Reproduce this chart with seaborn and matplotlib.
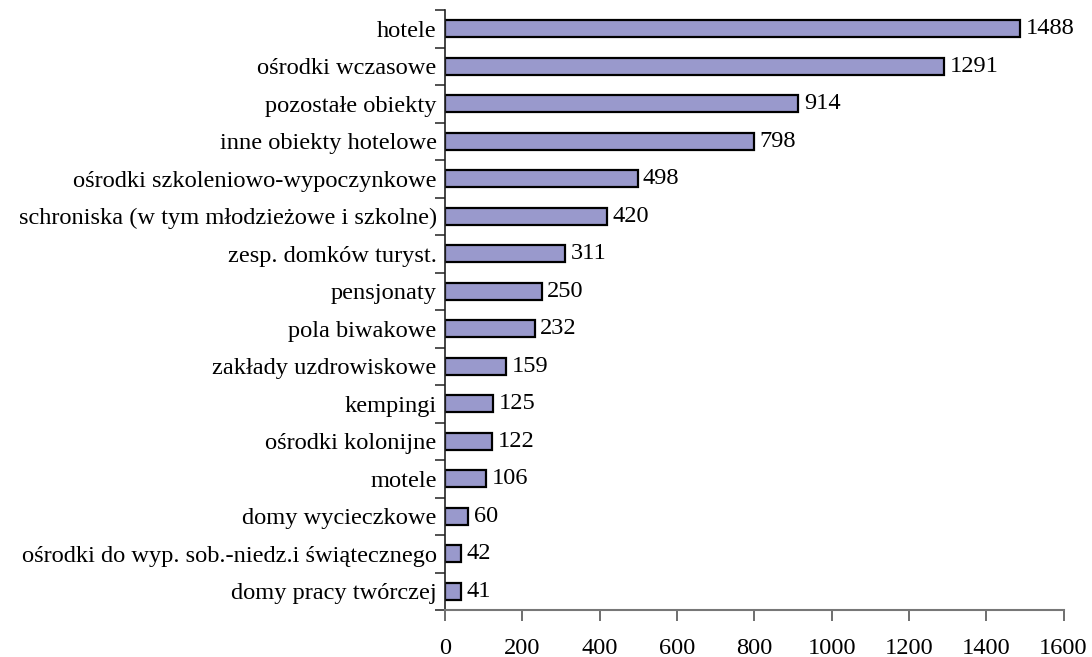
import numpy as np
import pandas as pd
import matplotlib
matplotlib.use("Agg")
import matplotlib.pyplot as plt
import seaborn as sns

# ---------------------------------------------------------------------------
# Data
# ---------------------------------------------------------------------------

categories = [
    "hotele",
    "ośrodki wczasowe",
    "pozostałe obiekty",
    "inne obiekty hotelowe",
    "ośrodki szkoleniowo-wypoczynkowe",
    "schroniska (w tym młodzieżowe i szkolne)",
    "zesp. domków turyst.",
    "pensjonaty",
    "pola biwakowe",
    "zakłady uzdrowiskowe",
    "kempingi",
    "ośrodki kolonijne",
    "motele",
    "domy wycieczkowe",
    "ośrodki do wyp. sob.-niedz.i świątecznego",
    "domy pracy twórczej",
]
values = [1488, 1291, 914, 798, 498, 420, 311, 250, 232, 159, 125, 122, 106, 60, 42, 41]
x_ticks = [0, 200, 400, 600, 800, 1000, 1200, 1400, 1600]

# ---------------------------------------------------------------------------
# Plot
# ---------------------------------------------------------------------------

sns.set_theme(style="white")
plt.rcParams["font.family"] = ["Liberation Serif", "DejaVu Serif"]
fs = 17.6

df = pd.DataFrame({"kategoria": categories, "liczba": values})

fig = plt.figure(figsize=(10.92, 6.57), dpi=100, facecolor="white")
ax = fig.add_axes([0.4075, 0.0715, 0.5665, 0.913])

sns.barplot(data=df, x="liczba", y="kategoria", orient="h", color="#9999cc",
            saturation=1, width=0.45, edgecolor="black", linewidth=1.6, ax=ax)

for i, v in enumerate(values):
    ax.text(v + 14, i, str(v), va="center", ha="left", fontsize=fs, color="black")

ax.set_xlim(0, 1600)
ax.set_ylim(len(categories) - 0.5, -0.5)
ax.set_xticks(x_ticks)
ax.set_xticklabels([str(t) for t in x_ticks], fontsize=fs)
ax.tick_params(axis="x", length=8, width=1.2, color="#555555", pad=12,
               direction="out", bottom=True, labelcolor="black")

# labels at category centres, tick marks at the boundaries
ax.set_yticks(range(len(categories)))
ax.set_yticklabels(categories, fontsize=fs)
ax.tick_params(axis="y", which="major", length=0, pad=6, labelcolor="black")
ax.set_yticks(np.arange(-0.5, len(categories), 1), minor=True)
ax.tick_params(axis="y", which="minor", length=7, width=1.2, color="#333333", left=True)

ax.set_xlabel("")
ax.set_ylabel("")
for side in ["top", "right"]:
    ax.spines[side].set_visible(False)
ax.spines["left"].set_color("#222222")
ax.spines["bottom"].set_color("#777777")
ax.spines["left"].set_linewidth(1.2)
ax.spines["bottom"].set_linewidth(1.5)

fig.savefig("out.png", dpi=100, facecolor="white")
